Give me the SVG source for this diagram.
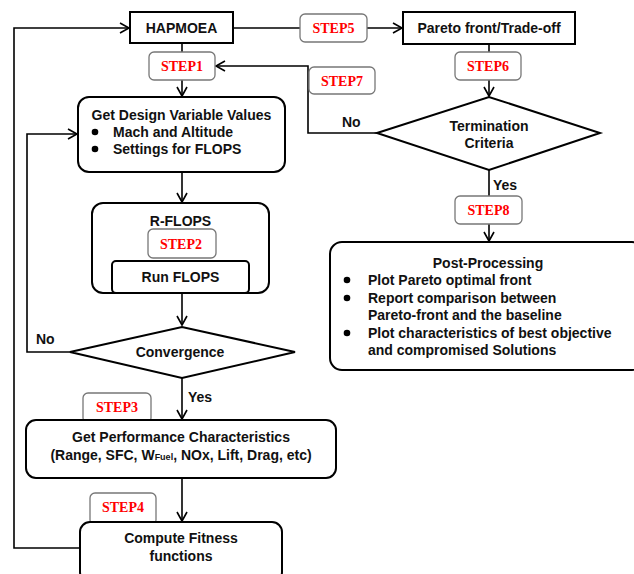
<svg xmlns="http://www.w3.org/2000/svg" width="634" height="574" viewBox="0 0 634 574">
<defs>
<marker id="arr" markerWidth="12" markerHeight="12" refX="10" refY="6" orient="auto" markerUnits="userSpaceOnUse">
<path d="M1,1 L10,6 L1,11" fill="none" stroke="#000" stroke-width="1.6"/>
</marker>
<style>
.box{fill:#fff;stroke:#000;stroke-width:2}
.step{fill:#fff;stroke:#777;stroke-width:1.3}
.st{font-family:"Liberation Serif",serif;font-weight:bold;font-size:14px;fill:#f00;text-anchor:middle}
.t{font-family:"Liberation Sans",Arial,sans-serif;font-weight:bold;font-size:14px;fill:#111}
.c{text-anchor:middle}
.ln{fill:none;stroke:#000;stroke-width:1.6}
</style>
</defs>
<rect width="634" height="574" fill="#fff"/>
<g id="connectors">
<path class="ln" d="M182,43 V52"/>
<path class="ln" d="M182,80 V96" marker-end="url(#arr)"/>
<path class="ln" d="M182,172 V202" marker-end="url(#arr)"/>
<path class="ln" d="M182,293 V325" marker-end="url(#arr)"/>
<path class="ln" d="M182,378 V419" marker-end="url(#arr)"/>
<path class="ln" d="M182,478 V521" marker-end="url(#arr)"/>
<path class="ln" d="M70,352 H27 V134 H77" marker-end="url(#arr)"/>
<path class="ln" d="M80,548 H14 V28 H129" marker-end="url(#arr)"/>
<path class="ln" d="M233,28 H300"/>
<path class="ln" d="M367,28 H402" marker-end="url(#arr)"/>
<path class="ln" d="M489,44 V52"/>
<path class="ln" d="M489,80 V96" marker-end="url(#arr)"/>
<path class="ln" d="M377,133 H308 V66 H216" marker-end="url(#arr)"/>
<path class="ln" d="M489,170 V196"/>
<path class="ln" d="M489,224 V241" marker-end="url(#arr)"/>
<text class="t" x="36" y="344">No</text>
<text class="t" x="188" y="402">Yes</text>
<text class="t" x="342" y="127">No</text>
<text class="t" x="493" y="190">Yes</text>
</g>
<g id="hapmoea">
<rect class="box" x="130" y="12" width="103" height="31"/>
<text class="t c" x="181.5" y="33">HAPMOEA</text>
</g>
<g id="step1">
<rect class="step" x="149" y="52" width="66" height="28" rx="5"/>
<text class="st" x="182" y="71">STEP1</text>
</g>
<g id="design">
<rect class="box" x="78" y="97" width="207" height="75" rx="11"/>
<text class="t c" x="181.5" y="120">Get Design Variable Values</text>
<circle cx="95" cy="132" r="3.3"/>
<text class="t" x="113" y="137">Mach and Altitude</text>
<circle cx="95" cy="149" r="3.3"/>
<text class="t" x="113" y="154">Settings for FLOPS</text>
</g>
<g id="rflops">
<rect class="box" x="92" y="203" width="177" height="90" rx="11"/>
<text class="t c" x="180.5" y="226">R-FLOPS</text>
</g>
<g id="step2">
<rect class="step" x="148" y="229" width="68" height="29" rx="5"/>
<text class="st" x="181" y="249">STEP2</text>
</g>
<g id="runflops">
<rect class="box" x="112" y="261" width="137" height="32" rx="4"/>
<text class="t c" x="180.5" y="282">Run FLOPS</text>
</g>
<g id="convergence">
<polygon class="box" points="70,352 182,327 295,352 182,378"/>
<text class="t c" x="180" y="357">Convergence</text>
</g>
<g id="step3">
<rect class="step" x="83" y="393" width="68" height="30" rx="5"/>
<text class="st" x="117" y="412">STEP3</text>
</g>
<g id="performance">
<rect class="box" x="26" y="420" width="310" height="58" rx="10"/>
<text class="t c" x="181" y="442">Get Performance Characteristics</text>
<text class="t c" x="181" y="460">(Range, SFC, W<tspan font-size="9">Fuel</tspan>, NOx, Lift, Drag, etc)</text>
</g>
<g id="step4">
<rect class="step" x="90" y="493" width="66" height="32" rx="5"/>
<text class="st" x="123" y="512">STEP4</text>
</g>
<g id="fitness">
<rect class="box" x="80" y="522" width="202" height="60" rx="10"/>
<text class="t c" x="181" y="543">Compute Fitness</text>
<text class="t c" x="181" y="561">functions</text>
</g>
<g id="step5">
<rect class="step" x="300" y="14" width="67" height="28" rx="5"/>
<text class="st" x="333.5" y="33">STEP5</text>
</g>
<g id="pareto">
<rect class="box" x="403" y="12" width="172" height="32"/>
<text class="t c" x="489" y="33">Pareto front/Trade-off</text>
</g>
<g id="step6">
<rect class="step" x="455" y="52" width="66" height="28" rx="5"/>
<text class="st" x="488" y="71">STEP6</text>
</g>
<g id="step7">
<rect class="step" x="309" y="67" width="66" height="27" rx="5"/>
<text class="st" x="342" y="86">STEP7</text>
</g>
<g id="termination">
<polygon class="box" points="377,133 489,97 600,133 489,170"/>
<text class="t c" x="489" y="131">Termination</text>
<text class="t c" x="489" y="148">Criteria</text>
</g>
<g id="step8">
<rect class="step" x="455" y="196" width="67" height="28" rx="5"/>
<text class="st" x="488.5" y="215">STEP8</text>
</g>
<g id="postprocessing">
<rect class="box" x="330" y="242" width="314" height="128" rx="12"/>
<text class="t c" x="488" y="268">Post-Processing</text>
<circle cx="347" cy="280" r="3.3"/>
<text class="t" x="368" y="285">Plot Pareto optimal front</text>
<circle cx="347" cy="298" r="3.3"/>
<text class="t" x="368" y="303">Report comparison between</text>
<text class="t" x="368" y="320">Pareto-front and the baseline</text>
<circle cx="347" cy="333" r="3.3"/>
<text class="t" x="368" y="338">Plot characteristics of best objective</text>
<text class="t" x="368" y="355">and compromised Solutions</text>
</g>
</svg>
